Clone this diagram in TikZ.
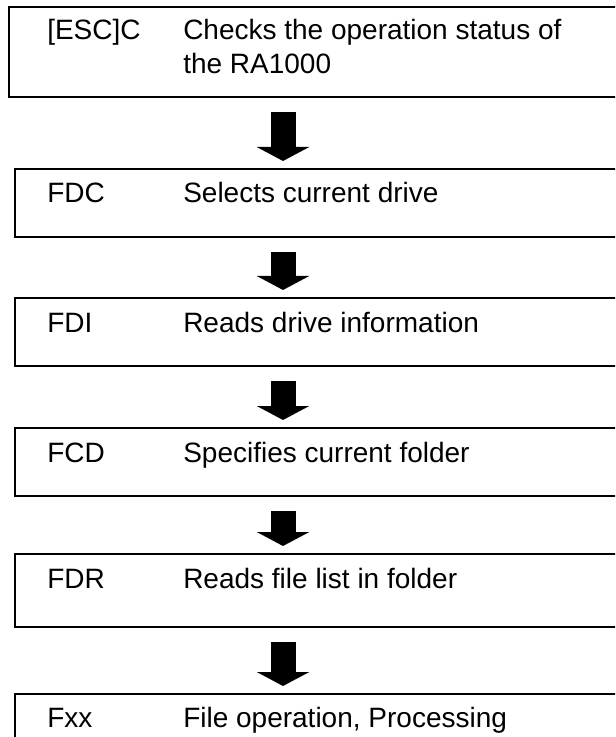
\documentclass[tikz,border=0pt]{standalone}
\usepackage{fontspec}
\setmainfont{Liberation Sans}
\usetikzlibrary{arrows.meta}

\begin{document}
\begin{tikzpicture}[x=0.75pt,y=-0.75pt,font=\fontsize{21}{25.5}\selectfont,
 cmdbox/.style={draw,line width=1.4pt,anchor=north west,inner sep=0pt,minimum width=462pt},
 cmdtext/.style={anchor=base west,inner sep=0pt,align=left},
 flow/.style={line width=18.75pt,-{Triangle[width=39pt,length=10.5pt]},shorten <=10.5pt,shorten >=5.25pt}]
\useasboundingbox (0,0) rectangle (615,737);
\clip (0,0) rectangle (615,737);
\node[cmdbox,minimum width=466.5pt,minimum height=67.5pt] (esc) at (8,6) {};
\node[cmdbox,minimum height=51pt] (fdc) at (14,168) {};
\node[cmdbox,minimum height=51pt] (fdi) at (14,297) {};
\node[cmdbox,minimum height=51pt] (fcd) at (14,427) {};
\node[cmdbox,minimum height=54.75pt] (fdr) at (14,553) {};
\node[cmdbox,minimum height=45pt] (fxx) at (14,693) {};
% command names and what they do
\node[cmdtext] (esc-cmd) at (47,40) {[ESC]C};
\node[cmdtext] (esc-desc) at (183,74) {Checks the operation status of\\the RA1000};
\node[cmdtext] (fdc-cmd) at (47,203) {FDC};
\node[cmdtext] (fdc-desc) at (183,203) {Selects current drive};
\node[cmdtext] (fdi-cmd) at (47,332) {FDI};
\node[cmdtext] (fdi-desc) at (183,332) {Reads drive information};
\node[cmdtext] (fcd-cmd) at (47,462) {FCD};
\node[cmdtext] (fcd-desc) at (183,462) {Specifies current folder};
\node[cmdtext] (fdr-cmd) at (47,588) {FDR};
\node[cmdtext] (fdr-desc) at (183,588) {Reads file list in folder};
\node[cmdtext] (fxx-cmd) at (47,727) {Fxx};
\node[cmdtext] (fxx-desc) at (183,727) {File operation, Processing};
% block arrows
\coordinate (axis) at (283,0);
\draw[flow] (axis |- esc.south) -- (axis |- fdc.north);
\draw[flow] (axis |- fdc.south) -- (axis |- fdi.north);
\draw[flow] (axis |- fdi.south) -- (axis |- fcd.north);
\draw[flow] (axis |- fcd.south) -- (axis |- fdr.north);
\draw[flow] (axis |- fdr.south) -- (axis |- fxx.north);
\end{tikzpicture}
\end{document}
